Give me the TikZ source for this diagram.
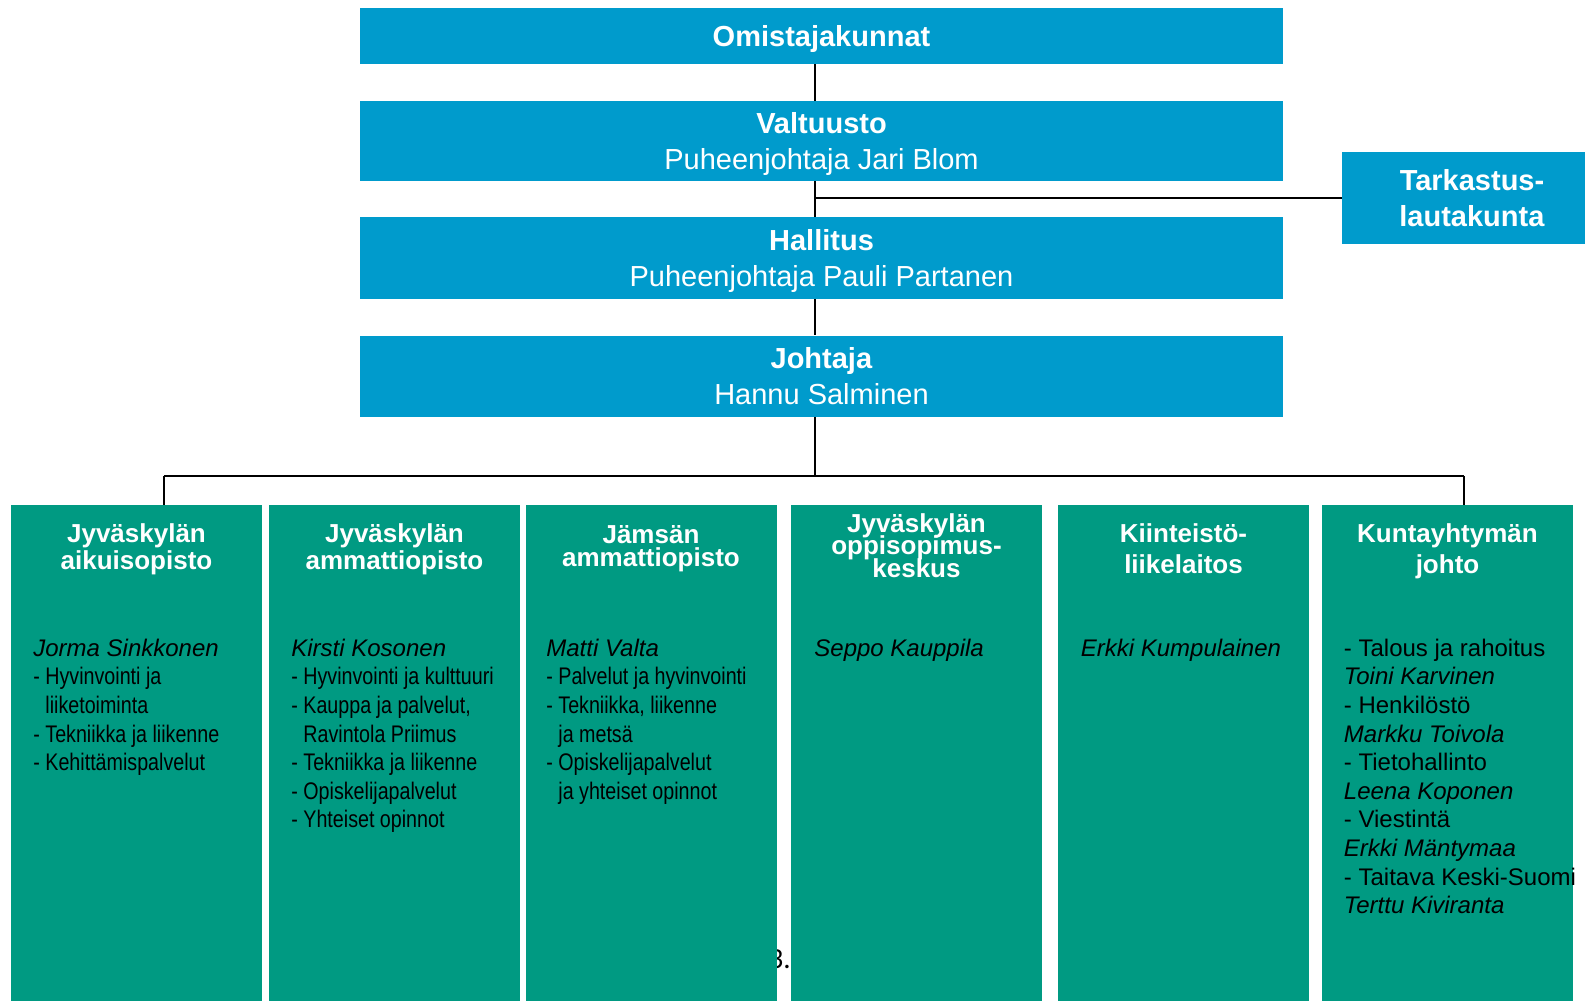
\documentclass[tikz,border=0pt]{standalone}
\usepackage{fontspec}
\setmainfont{Liberation Sans}
\newfontfamily\narrowfont{Liberation Sans}[FakeStretch=0.82]
\newfontfamily\pagefont{Carlito}
\definecolor{kyblue}{RGB}{0,155,204}
\definecolor{kygreen}{RGB}{0,154,130}
\newcommand{\nar}[1]{{\narrowfont #1}}
\newcommand{\cont}{\phantom{- }}
\newcommand{\tightlines}{\lineskiplimit=-20pt\relax}

\begin{document}
\begin{tikzpicture}[x=0.5pt, y=-0.5pt,
	boardbox/.style={fill=kyblue, text=white, inner sep=0pt, align=center, text depth=0pt, minimum width=461.5pt, font=\fontsize{14.5}{18}\selectfont},
	unitbox/.style={fill=kygreen, inner sep=0pt, minimum width=125.5pt, minimum height=252.5pt},
	unithead/.style={text=white, inner sep=0pt, align=center, anchor=north, font={\bfseries\fontsize{13}{#1}\selectfont\tightlines}},
	unithead/.default=13.75,
	unitbody/.style={inner sep=0pt, align=left, anchor=north west, font=\fontsize{12}{14.3}\selectfont},
	link/.style={line width=0.75pt}]
		\useasboundingbox (0,0) rectangle (1585,1001);
		\clip (0,0) rectangle (1585,1001);

		\coordinate (spine) at (815,0);
		\coordinate (busL) at (164,476);
		\coordinate (busR) at (1464,476);

		% Board boxes.
		\node[boardbox, minimum height=28pt] (omist) at (821.5,36) {\bfseries Omistajakunnat};
		\node[boardbox, minimum height=40pt] (valt) at (821.5,141) {\textbf{Valtuusto}\\Puheenjohtaja Jari Blom};
		\node[boardbox, minimum height=41pt] (hall) at (821.5,258) {\textbf{Hallitus}\\Puheenjohtaja Pauli Partanen};
		\node[boardbox, minimum height=40.5pt] (joht) at (821.5,376) {\textbf{Johtaja}\\Hannu Salminen};
		\node[boardbox, minimum width=130pt, minimum height=46pt] (tark) at (1472,198) {\textbf{Tarkastus-}\\\textbf{lautakunta}};

		% Connectors.
		\draw[link] (omist.south -| spine) -- (valt.north -| spine);
		\draw[link] (valt.south -| spine) -- (hall.north -| spine);
		\draw[link] (hall.south -| spine) -- (joht.north -| spine);
		\draw[link] (tark.west) -- (tark.west -| spine);
		\draw[link] (joht.south -| spine) -- (busL -| spine);
		\draw[link] (busL) -- (busR);

		\node[inner sep=0pt, anchor=base east, font=\pagefont\fontsize{14.5}{17}\selectfont] (pageno) at (791,968) {3.};

		% Units.
		\node[unitbox] (ao) at (136.5,757.5) {};
		\node[unitbox] (jao) at (394.5,757.5) {};
		\node[unitbox] (jam) at (651,757.5) {};
		\node[unitbox] (osk) at (916.5,757.5) {};
		\node[unitbox] (kil) at (1183.5,757.5) {};
		\node[unitbox] (kjo) at (1447.5,757.5) {};

		\draw[link] (busL) -- (busL |- ao.north);
		\draw[link] (busR) -- (busR |- kjo.north);

		\node[unithead] (ao-head) at (136.5,523) {Jyväskylän\\aikuisopisto};
		\node[unithead] (jao-head) at (394.5,523) {Jyväskylän\\ammattiopisto};
		\node[unithead=11.75] (jam-head) at (651,525) {Jämsän\\ammattiopisto};
		\node[unithead=11.25] (osk-head) at (916.5,513) {Jyväskylän\\oppisopimus-\\keskus};
		\node[unithead=15.75] (kil-head) at (1183.5,523) {Kiinteistö-\\liikelaitos};
		\node[unithead=15.75] (kjo-head) at (1447.5,523) {Kuntayhtymän\\johto};

		\node[unitbody] (ao-body) at (33,638.5) {\textit{Jorma Sinkkonen}\\\nar{- Hyvinvointi ja}\\\nar{\cont liiketoiminta}\\\nar{- Tekniikka ja liikenne}\\\nar{- Kehittämispalvelut}};
		\node[unitbody] (jao-body) at (291,638.5) {\textit{Kirsti Kosonen}\\\nar{- Hyvinvointi ja kulttuuri}\\\nar{- Kauppa ja palvelut,}\\\nar{\cont Ravintola Priimus}\\\nar{- Tekniikka ja liikenne}\\\nar{- Opiskelijapalvelut}\\\nar{- Yhteiset opinnot}};
		\node[unitbody] (jam-body) at (546,638.5) {\textit{Matti Valta}\\\nar{- Palvelut ja hyvinvointi}\\\nar{- Tekniikka, liikenne}\\\nar{\cont ja metsä}\\\nar{- Opiskelijapalvelut}\\\nar{\cont ja yhteiset opinnot}};
		\node[unitbody] (osk-body) at (814,638.5) {\textit{Seppo Kauppila}};
		\node[unitbody] (kil-body) at (1080.5,638.5) {\textit{Erkki Kumpulainen}};
		\node[unitbody] (kjo-body) at (1343.5,638.5) {- Talous ja rahoitus\\\textit{Toini Karvinen}\\- Henkilöstö\\\textit{Markku Toivola}\\- Tietohallinto\\\textit{Leena Koponen}\\- Viestintä\\\textit{Erkki Mäntymaa}\\- Taitava Keski-Suomi\\\textit{Terttu Kiviranta}};
	\end{tikzpicture}
\end{document}
